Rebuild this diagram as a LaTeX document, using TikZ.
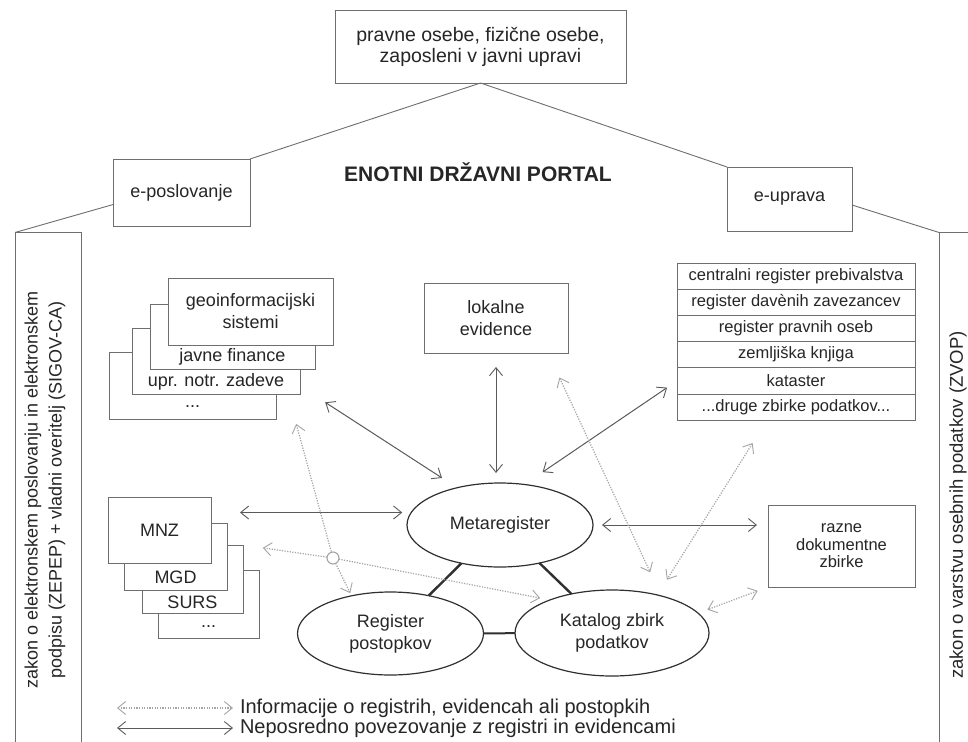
\documentclass[tikz,border=0pt]{standalone}
\usepackage{fontspec}
\setmainfont{Liberation Sans}
\usetikzlibrary{arrows.meta,calc,shapes.geometric}
\definecolor{ln}{HTML}{6E6E6E}
\definecolor{tx}{HTML}{262626}
\definecolor{dt}{HTML}{A4A4A4}
\definecolor{thk}{HTML}{303030}
\definecolor{ar}{HTML}{5A5A5A}
\begin{document}
\begin{tikzpicture}[x=1pt,y=-1pt,
  every node/.style={text=tx, inner sep=0pt, outer sep=0pt},
  box/.style={draw=ln, line width=0.9pt, fill=white, align=center, font=\fontsize{18}{22}\selectfont},
  plain/.style={align=center, font=\fontsize{18}{22}\selectfont},
  row/.style={draw=ln, line width=0.8pt, fill=white, minimum width=238pt, minimum height=26.2pt, font=\fontsize{16.5}{19}\selectfont},
  ell/.style={draw=thk, line width=1.2pt, ellipse, fill=white, align=center, font=\fontsize{18}{22}\selectfont},
  conn/.style={draw=ln, line width=0.9pt},
  tip/.tip={Straight Barb[length=8pt,width=13pt,line width=0.9pt]},
  arr/.style={draw=ar, line width=1pt, tip-tip},
  dotl/.style={draw=dt, line width=1.2pt, dash pattern=on 1.2pt off 1.4pt},
  thickl/.style={draw=thk, line width=2.4pt}
]
\useasboundingbox (0,0) rectangle (968,741);
\fill[white] (0,0) rectangle (968,741);

% top level
\node[box, minimum width=291pt, minimum height=73pt, font=\fontsize{19.5}{21}\selectfont] (top) at (480.5,46.5) {pravne osebe, fizične osebe,\\zaposleni v javni upravi};
\node[box, minimum width=137pt, minimum height=67pt] (ep) at (181.5,192.5) {e-poslovanje};
\node[box, minimum width=125pt, minimum height=64pt] (eu) at (789.5,199) {e-uprava};
\node[font=\fontsize{21}{24}\selectfont\bfseries] (title) at (478,172) {ENOTNI DRŽAVNI PORTAL};

% side law boxes
\node[draw=ln, line width=0.9pt, minimum width=66pt, minimum height=541pt] (lawL) at (48,503) {};
\node[draw=ln, line width=0.9pt, minimum width=70pt, minimum height=541pt] (lawR) at (974,503) {};
\node[rotate=90, align=center, font=\fontsize{18}{24}\selectfont] (lawLt) at (45,490) {zakon o elektronskem poslovanju in elektronskem\\podpisu (ZEPEP) + vladni overitelj (SIGOV-CA)};
\node[rotate=90, font=\fontsize{18.5}{22}\selectfont] (lawRt) at (958,505) {zakon o varstvu osebnih podatkov (ZVOP)};

\draw[conn] (top.south) -- (ep.north east);
\draw[conn] (top.south) -- (eu.north west);
\draw[conn] ($(ep.south west)!0.32!(ep.north west)$) -- (lawL.north west);
\draw[conn] ($(eu.east)+(0,6)$) -- (lawR.north west);

% geo stack
\node[box, minimum width=167pt, minimum height=67pt] (gdots) at (192.5,385.5) {};
\node[plain] at (192.5,407) {...};
\node[box, minimum width=168pt, minimum height=66pt] (upr) at (216,361) {};
\node[plain] at (216,382) {upr. notr. zadeve};
\node[box, minimum width=165pt, minimum height=65pt] (jf) at (232.5,336.5) {};
\node[plain] at (232.5,357) {javne finance};
\node[box, minimum width=165pt, minimum height=67pt] (geo) at (250.5,311.5) {geoinformacijski\\sistemi};

% MNZ stack
\node[box, minimum width=101pt, minimum height=68pt] (mdots) at (208.5,604) {};
\node[plain] at (208.5,627) {...};
\node[box, minimum width=101pt, minimum height=68pt] (surs) at (192.5,579) {};
\node[plain] at (192.5,602) {SURS};
\node[box, minimum width=103pt, minimum height=67pt] (mgd) at (175.5,556.5) {};
\node[plain] at (175.5,577) {MGD};
\node[box, minimum width=103pt, minimum height=66pt] (mnz) at (159.5,530) {MNZ};

% lokalne
\node[box, minimum width=144pt, minimum height=70pt] (lok) at (496,318) {lokalne\\evidence};

% register table
\node[row] (r1) at (796,276.1) {centralni register prebivalstva};
\node[row] (r2) at (796,302.3) {register davènih zavezancev};
\node[row] (r3) at (796,328.5) {register pravnih oseb};
\node[row] (r4) at (796,354.7) {zemljiška knjiga};
\node[row] (r5) at (796,380.9) {kataster};
\node[row] (r6) at (796,407.1) {...druge zbirke podatkov...};

% razne
\node[box, minimum width=147pt, minimum height=82pt, font=\fontsize{16.5}{17.5}\selectfont] (raz) at (841.5,546) {razne\\dokumentne\\zbirke};

% ellipses
\node[ell, minimum width=186pt, minimum height=84pt] (meta) at (500,525) {Metaregister};
\node[ell, minimum width=186pt, minimum height=83pt] (reg) at (390.5,633.5) {Register\\postopkov};
\node[ell, minimum width=194pt, minimum height=86pt] (kat) at (612,633) {Katalog zbirk\\podatkov};

\draw[thickl] (meta) -- (reg);
\draw[thickl] (meta) -- (kat);
\draw[thk, line width=2pt] (reg) -- (kat);

% solid arrows
\draw[arr, shorten <=30pt, shorten >=18pt] ($(upr.south east)+(0,-8)$) -- (meta.139);
\draw[arr, shorten <=14pt, shorten >=10pt] (lok.south) -- (lok.south |- meta.north);
\draw[arr, shorten <=12pt, shorten >=22pt] (r5.west) -- (meta.59);
\draw[arr, shorten <=29pt, shorten >=9pt] (mnz.east |- meta.172) -- (meta.172);
\draw[arr, shorten <=9pt, shorten >=11pt] (meta.east) -- (meta.east -| raz.west);

% dotted arrows
\node[circle, draw=dt, line width=1.1pt, minimum size=12pt, fill=white] (jn) at (333,558) {};
\draw[dotl, {Straight Barb[length=8pt,width=13pt,line width=0.9pt]}-, shorten <=31pt] ($(upr.south east)+(-12,0)$) -- (jn);
\draw[dotl, -{Straight Barb[length=8pt,width=13pt,line width=0.9pt]}, shorten >=3pt] (jn) -- (reg.136);
\draw[dotl, {Straight Barb[length=8pt,width=13pt,line width=0.9pt]}-, shorten <=20pt] (surs.north east) -- (jn);
\draw[dotl, -{Straight Barb[length=8pt,width=13pt,line width=0.9pt]}, shorten >=10pt] (jn) -- (kat.152);
\draw[dotl, {Straight Barb[length=8pt,width=13pt,line width=0.9pt]}-{Straight Barb[length=8pt,width=13pt,line width=0.9pt]}, shorten <=27pt, shorten >=26pt] ($(lok.south east)+(-20,0)$) -- (kat.37);
\draw[dotl, {Straight Barb[length=8pt,width=13pt,line width=0.9pt]}-{Straight Barb[length=8pt,width=13pt,line width=0.9pt]}, shorten <=27pt, shorten >=18pt] ($(r6.south)+(-29,0)$) -- (kat.40);
\draw[dotl, {Straight Barb[length=8pt,width=13pt,line width=0.9pt]}-{Straight Barb[length=8pt,width=13pt,line width=0.9pt]}, shorten <=11pt, shorten >=10pt] (raz.south west) -- (kat.13);

% legend
\coordinate (lg1) at (117,708);
\coordinate (lg2) at (117,728);
\node[anchor=west, font=\fontsize{20}{24}\selectfont] (lt1) at (240,708) {Informacije o registrih, evidencah ali postopkih};
\node[anchor=west, font=\fontsize{20}{24}\selectfont] (lt2) at (240,728) {Neposredno povezovanje z registri in evidencami};
\draw[dotl, {Straight Barb[length=8pt,width=13pt,line width=0.9pt]}-{Straight Barb[length=8pt,width=13pt,line width=0.9pt]}, shorten >=7pt] (lg1) -- (lt1.west);
\draw[arr, shorten >=7pt] (lg2) -- (lt2.west);
\end{tikzpicture}
\end{document}
